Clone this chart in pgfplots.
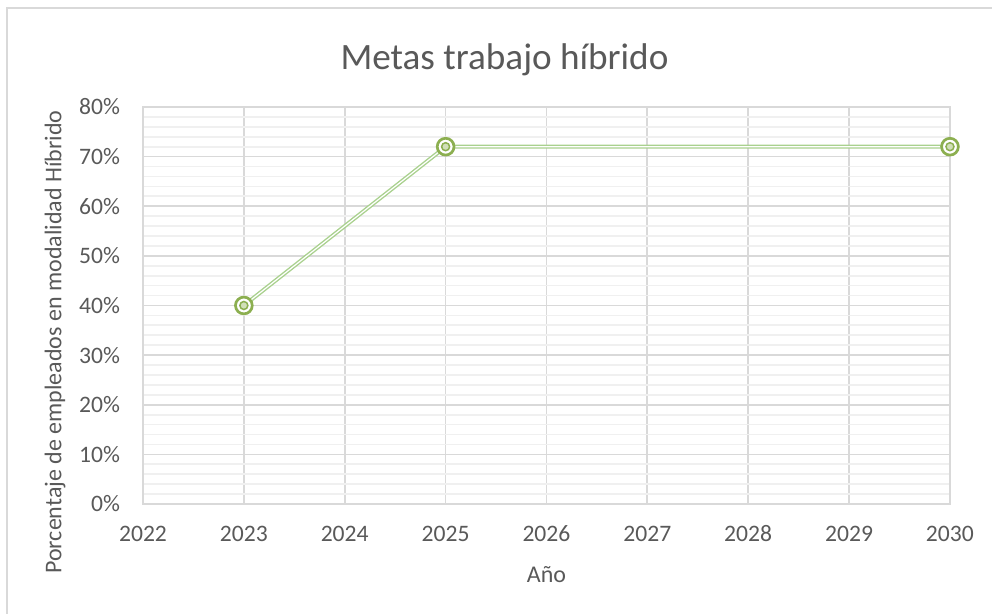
\documentclass[border=0pt]{standalone}
\usepackage{pgfplots}
\pgfplotsset{compat=1.18}
\usepackage{fontspec}
\setmainfont{Carlito}
\definecolor{txt}{HTML}{595959}
\definecolor{majg}{HTML}{D9D9D9}
\definecolor{ming}{HTML}{F0F0F0}
\definecolor{ln}{HTML}{A9D18E}
\definecolor{mk}{HTML}{8CAF50}
\begin{document}
\begin{tikzpicture}
\useasboundingbox (0,0) rectangle (496pt,307pt);
\draw[majg, line width=0.8pt] (3.5pt,0) -- (3.5pt,303pt) -- (496pt,303pt);
\begin{axis}[
  at={(71.5pt,55pt)}, anchor=south west,
  scale only axis, width=403.5pt, height=198.5pt,
  xmin=2022, xmax=2030, ymin=0, ymax=80,
  xtick={2022,...,2030}, ytick={0,10,...,80},
  minor x tick num=4, minor y tick num=4,
  grid=both,
  major grid style={majg, line width=0.85pt},
  minor grid style={ming, line width=0.85pt},
  axis line style={majg, line width=0.85pt},
  major tick length=0pt, minor tick length=0pt,
  xticklabel={\pgfmathprintnumber[1000 sep=]{\tick}},
  yticklabel={\pgfmathprintnumber{\tick}\%},
  /pgf/number format/assume math mode=true,
  ticklabel style={font=\fontsize{11.8}{14}\selectfont, text=txt},
  xticklabel style={anchor=north, text height=8.5pt, text depth=0pt, yshift=-6.5pt},
  yticklabel style={xshift=-8pt},
  xlabel={Año}, ylabel={Porcentaje de empleados en modalidad Híbrido},
  label style={font=\fontsize{12}{14}\selectfont, text=txt},
  xlabel style={yshift=-6pt},
  ylabel style={at={(ticklabel cs:0.408)}, yshift=0pt},
  title={Metas trabajo híbrido},
  title style={font=\fontsize{18.6}{22}\selectfont, text=txt, yshift=6pt, xshift=-21pt},
  clip=false,
]
\addplot[ln, line width=0.7pt, double=white, double distance=0.6pt, no markers] coordinates {(2023,40) (2025,72) (2030,72)};
\addplot[only marks, mark=*, mark size=4.2pt, mark options={draw=mk, fill=white, line width=1.35pt}] coordinates {(2023,40) (2025,72) (2030,72)};
\addplot[only marks, mark=*, mark size=2pt, mark options={draw=mk, fill=white!60!mk, line width=0.75pt}] coordinates {(2023,40) (2025,72) (2030,72)};
\end{axis}
\end{tikzpicture}
\end{document}
